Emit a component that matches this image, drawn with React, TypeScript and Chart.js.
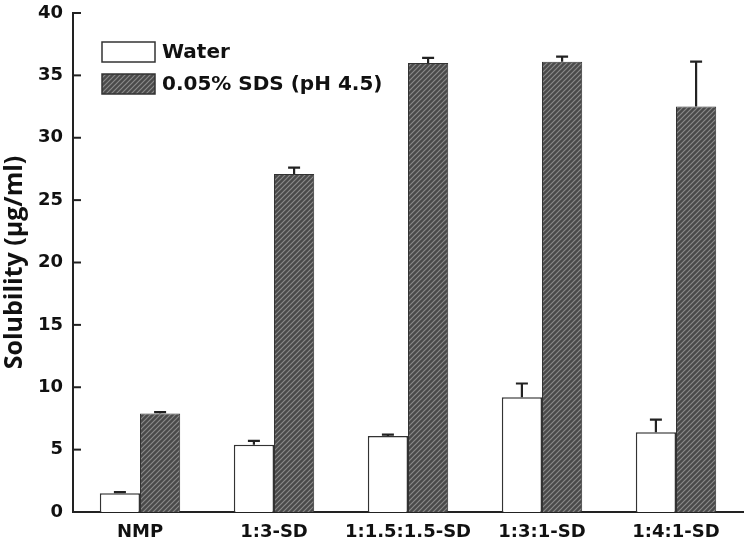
import React, { useEffect, useRef } from "react";
import { Chart, registerables } from "chart.js";

Chart.register(...registerables);

const categories = ["NMP", "1:3-SD", "1:1.5:1.5-SD", "1:3:1-SD", "1:4:1-SD"];
const waterValues = [1.5, 5.4, 6.1, 9.2, 6.4];
const waterErrors = [0.1, 0.3, 0.1, 1.1, 1.0];
const sdsValues = [7.9, 27.1, 36.0, 36.1, 32.5];
const sdsErrors = [0.1, 0.5, 0.4, 0.4, 3.6];
const seriesNames = ["Water", "0.05% SDS (pH 4.5)"];
const yTicks = [0, 5, 10, 15, 20, 25, 30, 35, 40];

const TEXT = "#111";
const LINE = "#222";

function makeHatch(): CanvasPattern | string {
  const c = document.createElement("canvas");
  const s = 5;
  c.width = s;
  c.height = s;
  const g = c.getContext("2d");
  if (!g) return "#555";
  g.fillStyle = "#4a4a4a";
  g.fillRect(0, 0, s, s);
  g.strokeStyle = "#8a8a8a";
  g.lineWidth = 1.2;
  g.beginPath();
  g.moveTo(0, s);
  g.lineTo(s, 0);
  g.moveTo(-1, 1);
  g.lineTo(1, -1);
  g.moveTo(s - 1, s + 1);
  g.lineTo(s + 1, s - 1);
  g.stroke();
  return g.createPattern(c, "repeat") || "#555";
}

export default function App() {
  const ref = useRef<HTMLCanvasElement | null>(null);

  useEffect(() => {
    if (!ref.current) return;
    const hatch = makeHatch();
    const errors = [waterErrors, sdsErrors];

    const errorBars = {
      id: "errorBars",
      afterDatasetsDraw(chart: any) {
        const ctx = chart.ctx;
        const ys = chart.scales.y;
        ctx.save();
        ctx.strokeStyle = LINE;
        ctx.lineWidth = 2.2;
        chart.data.datasets.forEach((ds: any, di: number) => {
          const meta = chart.getDatasetMeta(di);
          meta.data.forEach((bar: any, i: number) => {
            const v = ds.data[i];
            const e = errors[di][i];
            const yTop = ys.getPixelForValue(v + e);
            const yBase = bar.y;
            ctx.beginPath();
            ctx.moveTo(bar.x, yBase);
            ctx.lineTo(bar.x, yTop);
            ctx.moveTo(bar.x - 6, yTop);
            ctx.lineTo(bar.x + 6, yTop);
            ctx.stroke();
          });
        });
        ctx.restore();
      },
    };

    const innerTicks = {
      id: "innerTicks",
      afterDraw(chart: any) {
        const ctx = chart.ctx;
        const ys = chart.scales.y;
        const left = chart.chartArea.left;
        ctx.save();
        ctx.strokeStyle = LINE;
        ctx.lineWidth = 2;
        ys.ticks.forEach((t: any) => {
          const y = ys.getPixelForValue(t.value);
          ctx.beginPath();
          ctx.moveTo(left, y);
          ctx.lineTo(left + 8, y);
          ctx.stroke();
        });
        ctx.restore();
      },
    };

    const legendBox = {
      id: "legendBox",
      afterDraw(chart: any) {
        const ctx = chart.ctx;
        ctx.save();
        const bx = 102;
        const bw = 53;
        const bh = 20;
        const rows = [42, 74];
        rows.forEach((y, i) => {
          ctx.fillStyle = i === 0 ? "#ffffff" : (hatch as any);
          ctx.fillRect(bx, y, bw, bh);
          ctx.strokeStyle = "#333";
          ctx.lineWidth = 1.5;
          ctx.strokeRect(bx, y, bw, bh);
          ctx.fillStyle = TEXT;
          ctx.font = "bold 20px 'DejaVu Sans'";
          ctx.textBaseline = "middle";
          ctx.textAlign = "left";
          ctx.fillText(seriesNames[i], 162, y + bh / 2 + 1);
        });
        ctx.restore();
      },
    };

    const chart = new Chart(ref.current, {
      type: "bar",
      data: {
        labels: categories,
        datasets: [
          {
            label: seriesNames[0],
            data: waterValues,
            backgroundColor: "#ffffff",
            borderColor: "#333",
            borderWidth: 1.5,
            borderSkipped: "bottom",
            categoryPercentage: 0.6,
            barPercentage: 1.0,
          },
          {
            label: seriesNames[1],
            data: sdsValues,
            backgroundColor: hatch as any,
            borderColor: "#333",
            borderWidth: 1,
            borderSkipped: "bottom",
            categoryPercentage: 0.6,
            barPercentage: 1.0,
          },
        ],
      },
      options: {
        responsive: false,
        animation: false,
        layout: { padding: { top: 13, right: 3, left: 0, bottom: 0 } },
        plugins: {
          legend: { display: false },
          tooltip: { enabled: false },
        },
        scales: {
          x: {
            grid: { display: false, drawTicks: false },
            border: { display: true, color: LINE, width: 2 },
            ticks: {
              color: TEXT,
              font: { family: "'DejaVu Sans'", size: 18, weight: "bold" },
              padding: 10,
              maxRotation: 0,
              autoSkip: false,
            },
            afterFit(scale: any) {
              scale.height = 31;
            },
          },
          y: {
            min: 0,
            max: 40,
            grid: { display: false, drawTicks: false },
            border: { display: true, color: LINE, width: 2 },
            afterBuildTicks(scale: any) {
              scale.ticks = yTicks.map((v) => ({ value: v }));
            },
            ticks: {
              color: TEXT,
              font: { family: "'DejaVu Sans'", size: 18, weight: "bold" },
              padding: 10,
            },
            title: {
              display: true,
              text: "Solubility (μg/ml)",
              color: TEXT,
              font: { family: "'Open Sans'", size: 25, weight: "bold" },
              padding: { top: 0, bottom: 0 },
            },
            afterFit(scale: any) {
              scale.width = 73;
              scale.paddingTop = 5;
              scale.paddingBottom = 5;
            },
          },
        },
      },
      plugins: [errorBars, innerTicks, legendBox],
    });

    return () => chart.destroy();
  }, []);

  return (
    <div style={{ position: "absolute", left: 0, top: 0, width: 746, height: 543, background: "#fff" }}>
      <canvas ref={ref} width={746} height={543} style={{ display: "block", width: 746, height: 543 }} />
    </div>
  );
}
